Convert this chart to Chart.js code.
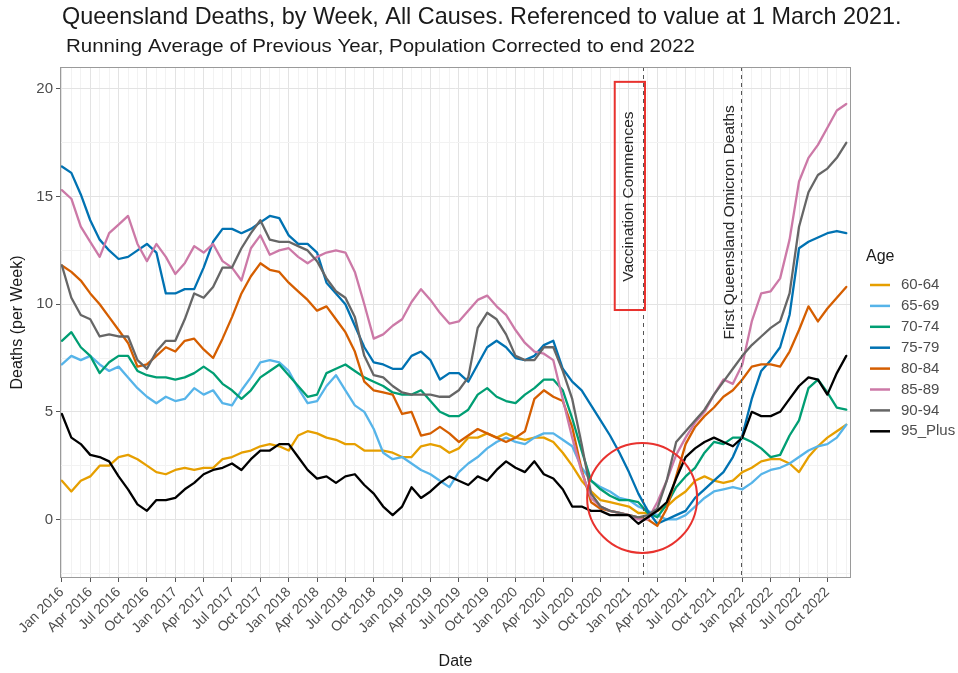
<!DOCTYPE html>
<html>
<head>
<meta charset="utf-8">
<script src="https://cdn.jsdelivr.net/npm/chart.js@4.4.1/dist/chart.umd.min.js"></script>
<style>
html,body{margin:0;padding:0;background:#fff;}
#wrap{position:relative;width:958px;height:673px;}
</style>
</head>
<body>
<div id="wrap"><canvas id="c" width="958" height="673"></canvas></div>
<script>
// ---------- DATA ----------
const ageGroups = ['60-64','65-69','70-74','75-79','80-84','85-89','90-94','95_Plus'];
const months = [
 '2016-01','2016-02','2016-03','2016-04','2016-05','2016-06','2016-07','2016-08','2016-09','2016-10','2016-11','2016-12',
 '2017-01','2017-02','2017-03','2017-04','2017-05','2017-06','2017-07','2017-08','2017-09','2017-10','2017-11','2017-12',
 '2018-01','2018-02','2018-03','2018-04','2018-05','2018-06','2018-07','2018-08','2018-09','2018-10','2018-11','2018-12',
 '2019-01','2019-02','2019-03','2019-04','2019-05','2019-06','2019-07','2019-08','2019-09','2019-10','2019-11','2019-12',
 '2020-01','2020-02','2020-03','2020-04','2020-05','2020-06','2020-07','2020-08','2020-09','2020-10','2020-11','2020-12',
 '2021-01','2021-02','2021-03','2021-04','2021-05','2021-06','2021-07','2021-08','2021-09','2021-10','2021-11','2021-12',
 '2022-01','2022-02','2022-03','2022-04','2022-05','2022-06','2022-07','2022-08','2022-09','2022-10','2022-11','2022-12'
];
const s6064 = [
 1.8,1.3,1.8,2.0,2.5,2.5,2.9,3.0,2.8,2.5,2.2,2.1,
 2.3,2.4,2.3,2.4,2.4,2.8,2.9,3.1,3.2,3.4,3.5,3.4,
 3.2,3.9,4.1,4.0,3.8,3.7,3.5,3.5,3.2,3.2,3.2,3.1,
 2.9,2.9,3.4,3.5,3.4,3.1,3.3,3.8,3.8,4.0,3.8,4.0,
 3.8,3.7,3.8,3.8,3.6,3.1,2.5,1.8,1.3,0.9,0.8,0.7,
 0.6,0.3,0.3,0.4,0.6,1.0,1.3,1.8,2.0,1.8,1.7,1.8,
 2.2,2.4,2.7,2.8,2.8,2.6,2.2,2.9,3.4,3.8,4.1,4.4];
const s6569 = [
 7.2,7.6,7.4,7.6,7.2,6.9,7.1,6.6,6.1,5.7,5.4,5.7,
 5.5,5.6,6.1,5.8,6.0,5.4,5.3,6.0,6.6,7.3,7.4,7.3,
 6.9,6.1,5.4,5.5,6.2,6.7,6.0,5.3,5.0,4.2,3.1,2.8,
 2.9,2.6,2.3,2.1,1.8,1.5,2.2,2.6,2.9,3.3,3.6,3.8,
 3.6,3.5,3.8,4.0,4.0,3.7,3.4,2.4,1.8,1.5,1.3,1.0,
 0.9,0.6,0.4,0.2,0.0,0.0,0.2,0.6,1.0,1.3,1.4,1.5,
 1.4,1.7,2.1,2.3,2.4,2.6,2.9,3.2,3.4,3.5,3.8,4.4];
const s7074 = [
 8.3,8.7,8.0,7.6,6.8,7.3,7.6,7.6,6.9,6.7,6.6,6.6,
 6.5,6.6,6.8,7.1,6.8,6.3,6.0,5.6,6.0,6.6,6.9,7.2,
 6.7,6.2,5.7,5.8,6.8,7.0,7.2,6.9,6.6,6.4,6.2,5.9,
 5.8,5.8,6.0,5.5,5.0,4.8,4.8,5.1,5.8,6.1,5.7,5.5,
 5.4,5.8,6.1,6.5,6.5,6.0,4.7,3.2,1.8,1.4,1.1,0.9,
 0.9,0.8,0.3,0.1,0.7,1.5,2.0,2.4,3.1,3.6,3.5,3.8,
 3.8,3.6,3.3,2.9,3.0,3.9,4.6,6.1,6.5,5.9,5.2,5.1];
const s7579 = [
 16.4,16.1,15.1,13.9,13.0,12.5,12.1,12.2,12.5,12.8,12.4,10.5,
 10.5,10.7,10.7,11.7,12.9,13.5,13.5,13.3,13.5,13.8,14.1,14.0,
 13.2,12.8,12.8,12.4,11.0,10.5,10.0,9.0,8.0,7.3,7.2,7.0,
 7.0,7.6,7.8,7.4,6.5,6.8,6.8,6.4,7.2,8.0,8.3,8.0,
 7.5,7.4,7.6,8.1,8.3,7.0,6.4,6.0,5.3,4.6,3.9,3.1,
 2.2,1.2,0.4,-0.2,0.0,0.2,0.4,1.0,1.4,1.8,2.2,2.9,
 3.9,5.6,6.9,7.4,8.0,9.5,12.6,12.9,13.1,13.3,13.4,13.3];
const s8084 = [
 11.8,11.5,11.1,10.5,10.0,9.4,8.8,8.2,7.1,7.2,7.6,8.0,
 7.8,8.3,8.4,7.9,7.5,8.4,9.4,10.5,11.3,11.9,11.6,11.5,
 11.0,10.6,10.2,9.7,9.9,9.3,8.7,7.8,6.4,6.0,5.9,5.8,
 4.9,5.0,3.9,4.0,4.3,4.0,3.6,3.9,4.2,4.0,3.8,3.6,
 3.8,4.1,5.6,6.0,5.7,5.5,4.3,2.3,0.8,0.5,0.4,0.3,
 0.2,0.1,0.0,-0.3,0.5,2.0,3.5,4.3,4.8,5.2,5.7,6.0,
 6.5,7.1,7.2,7.2,7.1,7.8,8.8,9.9,9.2,9.8,10.3,10.8];
const s8589 = [
 15.3,14.9,13.6,12.9,12.2,13.3,13.7,14.1,12.8,12.0,12.8,12.2,
 11.4,11.9,12.7,12.4,12.8,12.0,11.7,11.1,12.6,13.2,12.3,12.5,
 12.6,12.2,11.9,12.2,12.4,12.5,12.4,11.5,10.0,8.4,8.6,9.0,
 9.3,10.1,10.7,10.2,9.6,9.1,9.2,9.7,10.2,10.4,9.9,9.5,
 8.8,8.2,7.8,7.7,7.4,5.6,3.8,2.2,1.0,0.6,0.4,0.3,
 0.2,0.0,0.0,0.8,1.8,3.0,3.8,4.5,5.0,5.8,6.5,6.3,
 7.2,9.2,10.5,10.6,11.2,13.0,15.7,16.8,17.4,18.2,19.0,19.3];
const s9094 = [
 11.8,10.3,9.5,9.3,8.5,8.6,8.5,8.5,7.4,7.0,7.8,8.3,
 8.3,9.3,10.5,10.3,10.8,11.7,11.7,12.6,13.3,13.9,13.0,12.9,
 12.9,12.7,12.5,12.0,11.2,10.6,10.3,9.4,7.6,6.7,6.6,6.2,
 5.9,5.8,5.8,5.8,5.7,5.7,6.0,6.6,8.9,9.6,9.3,8.6,
 7.6,7.4,7.4,8.0,8.0,6.9,5.6,3.5,1.2,0.6,0.4,0.3,
 0.2,0.1,0.2,0.5,1.8,3.6,4.1,4.6,5.1,5.8,6.4,7.0,
 7.6,8.1,8.5,8.9,9.2,10.5,13.6,15.2,16.0,16.3,16.8,17.5];
const s95Plus = [
 4.9,3.8,3.5,3.0,2.9,2.7,2.0,1.4,0.7,0.4,0.9,0.9,
 1.0,1.4,1.7,2.1,2.3,2.4,2.6,2.3,2.8,3.2,3.2,3.5,
 3.5,2.9,2.3,1.9,2.0,1.7,2.0,2.1,1.6,1.2,0.6,0.2,
 0.6,1.5,1.0,1.3,1.7,2.0,1.8,1.6,2.0,1.8,2.3,2.7,
 2.4,2.2,2.7,2.1,1.9,1.4,0.6,0.6,0.4,0.4,0.2,0.2,
 0.2,-0.2,0.1,0.4,0.8,1.9,2.9,3.3,3.6,3.8,3.6,3.4,
 3.8,5.0,4.8,4.8,5.0,5.6,6.2,6.6,6.5,5.8,6.8,7.6];
const seriesValues = [s6064, s6569, s7074, s7579, s8084, s8589, s9094, s95Plus];

const xTickLabels = ['Jan 2016','Apr 2016','Jul 2016','Oct 2016','Jan 2017','Apr 2017','Jul 2017','Oct 2017',
 'Jan 2018','Apr 2018','Jul 2018','Oct 2018','Jan 2019','Apr 2019','Jul 2019','Oct 2019',
 'Jan 2020','Apr 2020','Jul 2020','Oct 2020','Jan 2021','Apr 2021','Jul 2021','Oct 2021',
 'Jan 2022','Apr 2022','Jul 2022','Oct 2022'];
const yTickValues = [0, 5, 10, 15, 20];
const yTickLabels = ['0', '5', '10', '15', '20'];
const yMinorValues = [-2.5, 2.5, 7.5, 12.5, 17.5];

// annotation anchors in data units (months since Jan 2016, deaths)
const vaccinationMonth = 61.5;
const omicronMonth = 71.85;
const circleCentre = {x: 61.4, y: 1.0};
const vaccBox = {x0: 58.5, x1: 61.7, y0: 9.73, y1: 20.33};
const vaccLabel = {x: 60.0, y: 15.0, text: 'Vaccination Commences'};
const omicronLabel = {x: 70.7, y: 13.8, text: 'First Queensland Omicron Deaths'};

// ---------- STYLE ----------
const seriesColors = ['#E69F00','#56B4E9','#009E73','#0072B2','#D55E00','#CC79A7','#666666','#000000'];
const FONT = "'Liberation Sans', Arial, Helvetica, sans-serif";
Chart.defaults.font.family = FONT;

const toMonth = s => (parseInt(s.slice(0,4),10) - 2016) * 12 + parseInt(s.slice(5,7),10) - 1;

const datasets = ageGroups.map((g, i) => ({
  label: g,
  data: months.map((m, j) => ({x: toMonth(m), y: seriesValues[i][j]})),
  borderColor: seriesColors[i],
  backgroundColor: seriesColors[i],
  borderWidth: 2.3,
  pointRadius: 0,
  pointHoverRadius: 0,
  tension: 0,
  borderJoinStyle: 'round',
  borderCapStyle: 'round',
  order: ageGroups.length - i
}));

const isMajorX = v => Math.round(v) % 3 === 0;
const isMajorY = v => yTickValues.indexOf(v) !== -1;

const decor = {
  id: 'decor',
  beforeDraw(chart) {
    const {ctx, width, height} = chart;
    ctx.save();
    ctx.fillStyle = '#ffffff';
    ctx.fillRect(0, 0, width, height);
    ctx.restore();
  },
  afterDatasetsDraw(chart) {
    const {ctx, chartArea: a, scales: {x, y}} = chart;
    ctx.save();
    // dashed reference lines
    ctx.strokeStyle = '#555555';
    ctx.lineWidth = 1;
    ctx.setLineDash([4, 4]);
    [vaccinationMonth, omicronMonth].forEach(m => {
      const px = Math.round(x.getPixelForValue(m)) + 0.5;
      ctx.beginPath(); ctx.moveTo(px, a.top); ctx.lineTo(px, a.bottom); ctx.stroke();
    });
    ctx.setLineDash([]);
    // red box
    ctx.strokeStyle = '#e8322e';
    ctx.lineWidth = 2;
    const bx0 = x.getPixelForValue(vaccBox.x0), bx1 = x.getPixelForValue(vaccBox.x1);
    const by0 = y.getPixelForValue(vaccBox.y1), by1 = y.getPixelForValue(vaccBox.y0);
    ctx.strokeRect(bx0, by0, bx1 - bx0, by1 - by0);
    // red circle
    ctx.beginPath();
    ctx.arc(x.getPixelForValue(circleCentre.x), y.getPixelForValue(circleCentre.y), 55, 0, Math.PI * 2);
    ctx.stroke();
    // rotated labels
    ctx.fillStyle = '#262626';
    ctx.font = '15.5px ' + FONT;
    ctx.textAlign = 'center';
    ctx.textBaseline = 'middle';
    [vaccLabel, omicronLabel].forEach(l => {
      ctx.save();
      ctx.translate(x.getPixelForValue(l.x), y.getPixelForValue(l.y));
      ctx.rotate(-Math.PI / 2);
      ctx.fillText(l.text, 0, 0);
      ctx.restore();
    });
    // panel border
    ctx.strokeStyle = '#9a9a9a';
    ctx.lineWidth = 1;
    ctx.strokeRect(a.left + 0.5, a.top + 0.5, a.right - a.left - 1, a.bottom - a.top - 1);
    ctx.restore();
  },
  afterDraw(chart) {
    const {ctx} = chart;
    ctx.save();
    ctx.textBaseline = 'middle';
    ctx.textAlign = 'left';
    ctx.fillStyle = '#1a1a1a';
    // title
    const title = 'Queensland Deaths, by Week, All Causes. Referenced to value at 1 March 2021.';
    ctx.font = '20px ' + FONT;
    let w = ctx.measureText(title).width;
    const tSize = 20 * 840 / w;
    ctx.font = tSize.toFixed(2) + 'px ' + FONT;
    ctx.fillText(title, 62, 18);
    // subtitle
    const sub = 'Running Average of Previous Year, Population Corrected to end 2022';
    ctx.font = '19px ' + FONT;
    w = ctx.measureText(sub).width;
    ctx.save();
    ctx.translate(66, 47);
    ctx.scale(629 / w, 1);
    ctx.fillText(sub, 0, 0);
    ctx.restore();
    // legend
    ctx.font = '16px ' + FONT;
    ctx.fillStyle = '#1a1a1a';
    ctx.fillText('Age', 866, 257);
    ctx.font = '15px ' + FONT;
    ageGroups.forEach((g, i) => {
      const yy = 285 + i * 20.9;
      ctx.strokeStyle = seriesColors[i];
      ctx.lineWidth = 2.5;
      ctx.beginPath(); ctx.moveTo(870, yy); ctx.lineTo(890, yy); ctx.stroke();
      ctx.fillStyle = '#4d4d4d';
      ctx.fillText(g, 901, yy);
    });
    ctx.restore();
  }
};

new Chart(document.getElementById('c'), {
  type: 'line',
  data: {datasets},
  options: {
    responsive: false,
    animation: false,
    devicePixelRatio: 1,
    layout: {padding: {left: 0, right: 107, top: 67, bottom: 0}},
    plugins: {legend: {display: false}, title: {display: false}, tooltip: {enabled: false}},
    scales: {
      x: {
        type: 'linear', min: -0.2, max: 83.5,
        afterBuildTicks: s => { s.ticks = months.map(m => ({value: toMonth(m)})); },
        afterFit: s => { s.height = 95; },
        border: {display: false},
        grid: {
          color: c => (c.tick && isMajorX(c.tick.value)) ? '#e3e3e3' : '#f2f2f2',
          tickColor: c => (c.tick && isMajorX(c.tick.value)) ? '#555555' : 'rgba(0,0,0,0)',
          tickLength: 4, lineWidth: 1
        },
        ticks: {
          autoSkip: false, minRotation: 45, maxRotation: 45, color: '#4d4d4d',
          font: {size: 14}, padding: 2,
          callback: v => isMajorX(v) ? xTickLabels[Math.round(v) / 3] : ''
        },
        title: {display: true, text: 'Date', color: '#1a1a1a', font: {size: 16}, padding: {top: 0, bottom: 2}}
      },
      y: {
        type: 'linear', min: -2.72, max: 21.02,
        afterBuildTicks: s => { s.ticks = yMinorValues.concat(yTickValues).sort((a, b) => a - b).map(v => ({value: v})); },
        afterFit: s => { s.width = 60; },
        border: {display: false},
        grid: {
          color: c => (c.tick && isMajorY(c.tick.value)) ? '#e3e3e3' : '#f2f2f2',
          tickColor: c => (c.tick && isMajorY(c.tick.value)) ? '#555555' : 'rgba(0,0,0,0)',
          tickLength: 4, lineWidth: 1
        },
        ticks: {
          color: '#4d4d4d', font: {size: 15}, padding: 3,
          callback: v => { const k = yTickValues.indexOf(v); return k === -1 ? '' : yTickLabels[k]; }
        },
        title: {display: true, text: 'Deaths (per Week)', color: '#1a1a1a', font: {size: 16}, padding: {top: 8, bottom: 0}}
      }
    }
  },
  plugins: [decor]
});
</script>
</body>
</html>
